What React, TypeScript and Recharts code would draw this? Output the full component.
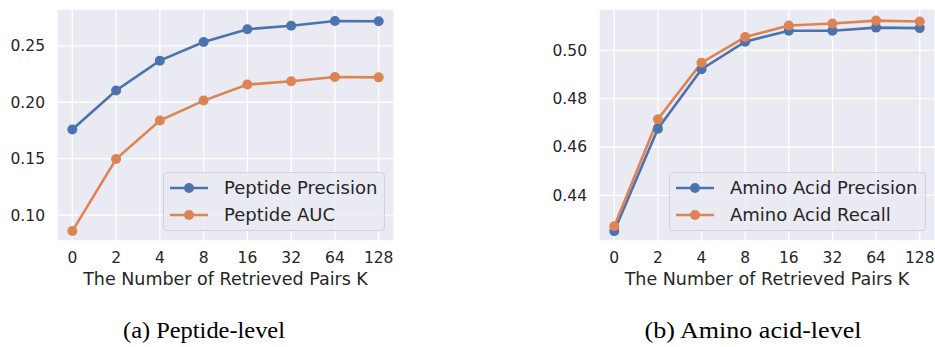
import { LineChart, Line, XAxis, YAxis, CartesianGrid, Label } from 'recharts'

const kLabels = ['0', '2', '4', '8', '16', '32', '64', '128']

const peptidePrecision = [0.1758, 0.2104, 0.2369, 0.2535, 0.2648, 0.2679, 0.2721, 0.2718]
const peptideAuc = [0.0858, 0.1497, 0.1838, 0.2015, 0.2157, 0.2186, 0.2224, 0.2221]

const aminoPrecision = [0.4252, 0.4676, 0.4922, 0.5036, 0.5081, 0.5081, 0.5094, 0.5092]
const aminoRecall = [0.4272, 0.4715, 0.4949, 0.5055, 0.5103, 0.5111, 0.5123, 0.5119]

const peptideTicks = [0.1, 0.15, 0.2, 0.25]
const aminoTicks = [0.44, 0.46, 0.48, 0.5]

const BLUE = '#4C72B0'
const ORANGE = '#DD8452'
const INK = '#262626'
const FONT = '"DejaVu Sans", sans-serif'

const peptideData = kLabels.map((k, i) => ({ i, k, a: peptidePrecision[i], b: peptideAuc[i] }))
const aminoData = kLabels.map((k, i) => ({ i, k, a: aminoPrecision[i], b: aminoRecall[i] }))

interface PanelProps {
  data: { i: number; k: string; a: number; b: number }[]
  yDomain: [number, number]
  yTicks: number[]
  width: number
  yWidth: number
  rightMargin: number
}

function Panel({ data, yDomain, yTicks, width, yWidth, rightMargin }: PanelProps) {
  const tickStyle = { fontSize: 15.5, fill: INK, fontFamily: FONT }
  return (
    <LineChart width={width} height={290} data={data} margin={{ top: 9, right: rightMargin, bottom: 0, left: 0 }}>
      <CartesianGrid fill="#EAEAF2" stroke="#ffffff" strokeWidth={1.3} />
      <XAxis
        dataKey="i"
        type="number"
        domain={[-0.35, 7.35]}
        ticks={[0, 1, 2, 3, 4, 5, 6, 7]}
        tickFormatter={(v: number) => kLabels[v]}
        axisLine={false}
        tickLine={false}
        tickMargin={5}
        height={49}
        tick={tickStyle}
        interval={0}
      >
        <Label
          value="The Number of Retrieved Pairs K"
          position="insideBottom"
          offset={5}
          style={{ fontSize: 17.5, fill: INK, fontFamily: FONT }}
        />
      </XAxis>
      <YAxis
        domain={yDomain}
        ticks={yTicks}
        allowDataOverflow
        tickFormatter={(v: number) => v.toFixed(2)}
        axisLine={false}
        tickLine={false}
        tickMargin={6}
        width={yWidth}
        tick={tickStyle}
      />
      <Line dataKey="a" stroke={BLUE} strokeWidth={2.6} dot={{ r: 5, fill: BLUE, stroke: 'none' }} isAnimationActive={false} />
      <Line dataKey="b" stroke={ORANGE} strokeWidth={2.6} dot={{ r: 5, fill: ORANGE, stroke: 'none' }} isAnimationActive={false} />
    </LineChart>
  )
}

function LegendBox({ left, top, width, names }: { left: number; top: number; width: number; names: string[] }) {
  const colors = [BLUE, ORANGE]
  return (
    <div
      style={{
        position: 'absolute',
        left,
        top,
        width,
        height: 59,
        boxSizing: 'border-box',
        border: '1px solid #d2d2da',
        borderRadius: 4,
        background: 'rgba(234,234,242,0.85)',
        fontFamily: FONT,
        fontSize: 18,
        color: INK,
      }}
    >
      {names.map((n, idx) => (
        <div key={n} style={{ position: 'absolute', left: 0, top: 14.5 + idx * 27.6 - 12, height: 24, display: 'flex', alignItems: 'center' }}>
          <svg width={60} height={24} style={{ display: 'block' }}>
            <line x1={6} x2={44} y1={12} y2={12} stroke={colors[idx]} strokeWidth={2.6} />
            <circle cx={25} cy={12} r={5} fill={colors[idx]} />
          </svg>
          <span style={{ whiteSpace: 'nowrap', lineHeight: '24px' }}>{n}</span>
        </div>
      ))}
    </div>
  )
}

export default function App() {
  return (
    <div style={{ position: 'absolute', left: 0, top: 0, width: 935, height: 347, background: '#fff', overflow: 'hidden' }}>
      <div style={{ position: 'absolute', left: 0, top: 0 }}>
        <Panel data={peptideData} yDomain={[0.077, 0.2827]} yTicks={peptideTicks} width={400} yWidth={57} rightMargin={6} />
      </div>
      <div style={{ position: 'absolute', left: 540, top: 0 }}>
        <Panel data={aminoData} yDomain={[0.4211, 0.5171]} yTicks={aminoTicks} width={395} yWidth={59} rightMargin={0} />
      </div>
      <LegendBox left={163} top={172} width={222} names={['Peptide Precision', 'Peptide AUC']} />
      <LegendBox left={669} top={172} width={257} names={['Amino Acid Precision', 'Amino Acid Recall']} />
      <svg width={935} height={347} style={{ position: 'absolute', left: 0, top: 0, pointerEvents: 'none' }}>
        <text x={204} y={338} textAnchor="middle" textLength={162} lengthAdjust="spacingAndGlyphs" style={{ fontFamily: '"Liberation Serif", serif', fontSize: 24, fill: '#000' }}>
          (a) Peptide-level
        </text>
        <text x={753} y={338} textAnchor="middle" textLength={217} lengthAdjust="spacingAndGlyphs" style={{ fontFamily: '"Liberation Serif", serif', fontSize: 24, fill: '#000' }}>
          (b) Amino acid-level
        </text>
      </svg>
    </div>
  )
}
